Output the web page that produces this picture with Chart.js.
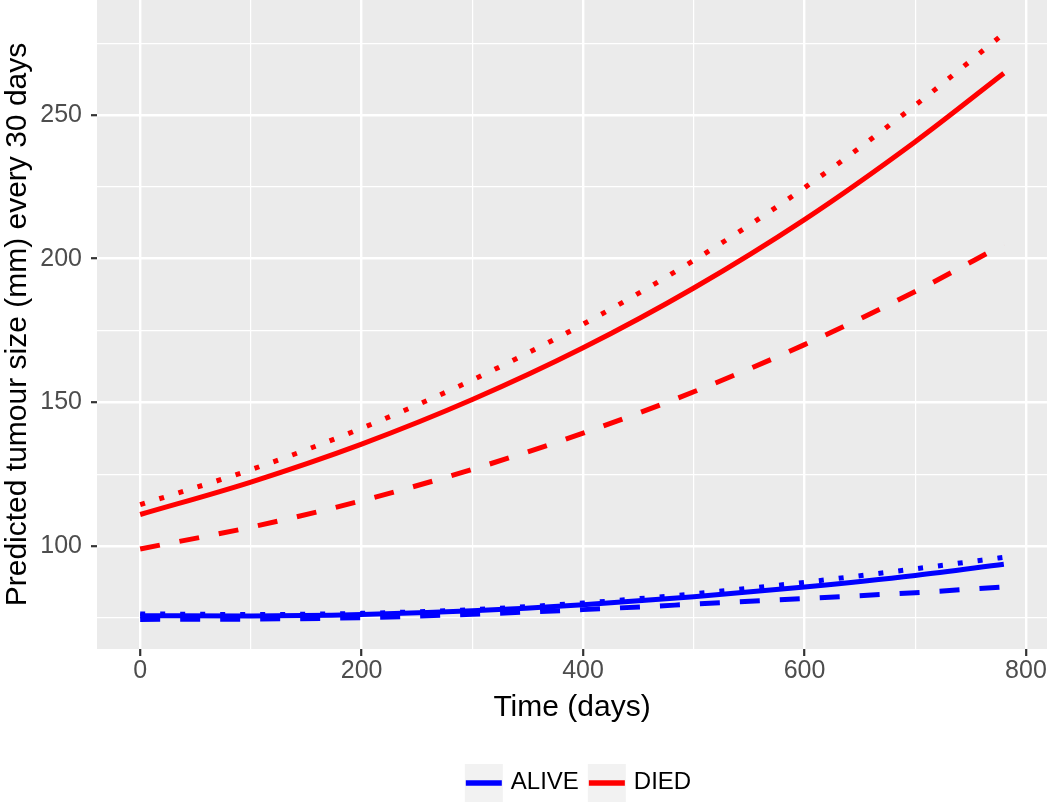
<!DOCTYPE html>
<html>
<head>
<meta charset="utf-8">
<script src="https://cdn.jsdelivr.net/npm/chart.js@4.4.1/dist/chart.umd.min.js"></script>
<style>
  html, body { margin: 0; padding: 0; background: #ffffff; }
</style>
</head>
<body>
<canvas id="tumourChart" width="1050" height="804"></canvas>
<script>
// time points (days) and predicted sizes
const days = [0, 100, 200, 300, 400, 500, 600, 700, 780];

const aliveSolid  = [75.8, 75.7, 76.2, 77.5, 79.6, 82.4, 85.8, 89.8, 93.7];
const aliveDotted = [76.4, 76.2, 76.6, 77.9, 80.2, 83.4, 87.4, 92.1, 96.1];
const aliveDashed = [74.5, 74.6, 75.1, 76.3, 77.9, 79.8, 81.8, 83.8, 85.8];

const diedSolid  = [111.0, 122.3, 135.5, 151.0, 169.0, 189.8, 213.6, 240.7, 264.5];
const diedDotted = [114.4, 126.6, 141.0, 157.8, 177.2, 199.4, 224.7, 253.4, 278.3];
const diedDashed = [99.0, 106.6, 115.8, 126.7, 139.3, 153.7, 170.1, 188.6, 205.0];

// axis ticks (major ones get labels, minor ones only a thin grid line)
const xTicks = [0, 100, 200, 300, 400, 500, 600, 700, 800];
const xLabels = [0, 200, 400, 600, 800];
const yTicks = [75, 100, 125, 150, 175, 200, 225, 250, 275];
const yLabels = [100, 150, 200, 250];

const groups = ['ALIVE', 'DIED'];
const groupColours = ['#0000FF', '#FF0000'];

const FONT = "'Liberation Sans', Arial, sans-serif";
Chart.defaults.font.family = FONT;

function toPoints(ys) {
    return days.map((d, i) => ({ x: d, y: ys[i] }));
}

function makeLine(ys, colour, dash) {
    return {
        data: toPoints(ys),
        borderColor: colour,
        borderWidth: 5,
        borderDash: dash,
        borderCapStyle: 'butt',
        pointRadius: 0,
        fill: false,
        cubicInterpolationMode: 'monotone'
    };
}

const DOTTED = [5, 15];
const DASHED = [20, 20];
const LEGEND_SHIFT = 6;

// grey panel behind the plot
const panelBackground = {
    id: 'panelBackground',
    beforeDraw(chart) {
        const { ctx, chartArea: a } = chart;
        ctx.save();
        ctx.fillStyle = '#ffffff';
        ctx.fillRect(0, 0, chart.width, chart.height);
        ctx.fillStyle = '#EBEBEB';
        ctx.fillRect(a.left, a.top, a.right - a.left, a.bottom - a.top);
        ctx.restore();
    }
};

// ggplot-like legend keys: light grey square with a coloured line
const legendKeys = {
    id: 'legendKeys',
    afterUpdate(chart) {
        // nudge the legend so it sits under the middle of the panel like ggplot's
        const legend = chart.legend;
        if (!legend) return;
        legend.left += LEGEND_SHIFT;
        legend.right += LEGEND_SHIFT;
        (legend.legendHitBoxes || []).forEach(hb => { hb.left += LEGEND_SHIFT; });
    },
    afterDraw(chart) {
        const legend = chart.legend;
        if (!legend || !legend.legendHitBoxes) return;
        const ctx = chart.ctx;
        ctx.save();
        legend.legendHitBoxes.forEach((hb, i) => {
            const cy = hb.top + 13;
            ctx.fillStyle = '#F2F2F2';
            ctx.fillRect(hb.left, cy - 19, 38, 38);
            ctx.strokeStyle = groupColours[i];
            ctx.lineWidth = 5.5;
            ctx.lineCap = 'butt';
            ctx.beginPath();
            ctx.moveTo(hb.left + 1, cy);
            ctx.lineTo(hb.left + 37, cy);
            ctx.stroke();
        });
        ctx.restore();
    }
};

const ctx = document.getElementById('tumourChart').getContext('2d');

new Chart(ctx, {
    type: 'line',
    data: {
        datasets: [
            makeLine(aliveSolid, groupColours[0], []),
            makeLine(aliveDotted, groupColours[0], DOTTED),
            makeLine(aliveDashed, groupColours[0], DASHED),
            makeLine(diedSolid, groupColours[1], []),
            makeLine(diedDotted, groupColours[1], DOTTED),
            makeLine(diedDashed, groupColours[1], DASHED)
        ]
    },
    options: {
        responsive: false,
        animation: false,
        devicePixelRatio: 1,
        layout: { padding: { top: 0, right: 3, left: 0, bottom: 0 } },
        plugins: {
            tooltip: { enabled: false },
            legend: {
                position: 'bottom',
                fullSize: false,
                labels: {
                    boxWidth: 34,
                    boxHeight: 24,
                    padding: 9,
                    color: '#000000',
                    font: { size: 24 },
                    generateLabels: () => groups.map((g, i) => ({
                        text: g,
                        fillStyle: 'rgba(0,0,0,0)',
                        strokeStyle: 'rgba(0,0,0,0)',
                        lineWidth: 0,
                        hidden: false,
                        datasetIndex: i * 3
                    }))
                }
            }
        },
        scales: {
            x: {
                type: 'linear',
                min: -39,
                max: 819,
                afterFit: s => {
                    s.height = 112;
                    s.paddingLeft = 0;
                    s.paddingRight = 0;
                },
                afterBuildTicks: s => { s.ticks = xTicks.map(v => ({ value: v })); },
                border: { display: false },
                grid: {
                    color: '#ffffff',
                    lineWidth: c => xLabels.includes(c.tick && c.tick.value) ? 2.4 : 1.2,
                    tickColor: c => xLabels.includes(c.tick && c.tick.value) ? '#333333' : 'rgba(0,0,0,0)',
                    tickWidth: 2.2,
                    tickLength: 7,
                    drawTicks: true
                },
                ticks: {
                    autoSkip: false,
                    maxRotation: 0,
                    padding: 0,
                    color: '#4D4D4D',
                    font: { size: 25 },
                    callback: v => xLabels.includes(v) ? String(v) : ''
                },
                title: {
                    display: true,
                    text: 'Time (days)',
                    color: '#000000',
                    font: { size: 30 },
                    padding: { top: 0, bottom: 35 }
                }
            },
            y: {
                type: 'linear',
                min: 64.2,
                max: 290,
                afterFit: s => {
                    s.width = 97;
                    s.paddingTop = 0;
                    s.paddingBottom = 0;
                },
                afterBuildTicks: s => { s.ticks = yTicks.map(v => ({ value: v })); },
                border: { display: false },
                grid: {
                    color: '#ffffff',
                    lineWidth: c => yLabels.includes(c.tick && c.tick.value) ? 2.4 : 1.2,
                    tickColor: c => yLabels.includes(c.tick && c.tick.value) ? '#333333' : 'rgba(0,0,0,0)',
                    tickWidth: 2.2,
                    tickLength: 6,
                    drawTicks: true
                },
                ticks: {
                    autoSkip: false,
                    padding: 9,
                    color: '#4D4D4D',
                    font: { size: 25 },
                    callback: v => yLabels.includes(v) ? String(v) : ''
                },
                title: {
                    display: true,
                    text: 'Predicted tumour size (mm) every 30 days',
                    color: '#000000',
                    font: { size: 30 },
                    padding: { top: 0, bottom: 0 }
                }
            }
        }
    },
    plugins: [panelBackground, legendKeys]
});
</script>
</body>
</html>
